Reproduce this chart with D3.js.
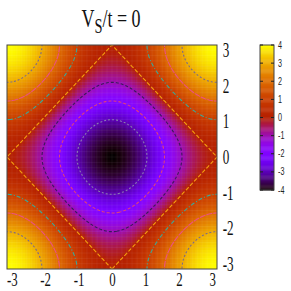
<!DOCTYPE html>
<html>
<head>
<meta charset="utf-8">
<script src="https://cdn.jsdelivr.net/npm/d3@7"></script>
<style>
  body { margin: 0; background: #fff; }
  svg { display: block; }
</style>
</head>
<body>
<svg width="291" height="291"></svg>
<script>
// parametros do modelo (titulo: V_S/t = 0)
var hopT = 1
var vS = 0
var tituloTexto = ["V", "S", "/t = 0"]

// niveis de contorno e ticks
var niveis = [-3, -2, -1, 0, 1, 2, 3]
var coresNiveis = ["#8a78b0", "#e0407a", "#3a1a5a", "#f5a010", "#3aa898", "#ec5080", "#7a6a8a"]
var tracosNiveis = ["2,2", "3,2", "3,2", "4,2", "4,2,1,2", "6,1", "2,2"]
var ticksEixo = [-3, -2, -1, 0, 1, 2, 3]
var ticksBarra = [-4, -3, -2, -1, 0, 1, 2, 3, 4]
var faixaCor = [-4, 4]

// energia da banda (tight binding)
function energia(kx, ky) {
    return -2 * hopT * (Math.cos(kx) + Math.cos(ky)) + vS
}

// paleta rgbformulae 7,5,15 do gnuplot
function paleta(t) {
    t = Math.max(0, Math.min(1, t))
    var r = Math.sqrt(t)
    var g = t * t * t
    var b = Math.max(0, Math.sin(2 * Math.PI * t))
    return d3.rgb(r * 255, g * 255, b * 255).toString()
}

var svg = d3.select("svg")
var PI = Math.PI

var x = d3.scaleLinear().domain([-PI, PI]).range([7, 217])
var y = d3.scaleLinear().domain([-PI, PI]).range([269, 45])
var cor = d3.scaleSequential(paleta).domain(faixaCor)

svg.append("defs").append("clipPath").attr("id", "clipArea")
    .append("rect")
    .attr("x", x(-PI)).attr("y", y(PI))
    .attr("width", x(PI) - x(-PI)).attr("height", y(-PI) - y(PI))

// mapa de cor
var M = 84
var passo = 2 * PI / M
var celulas = []
for (var j = 0; j < M; j++) {
    for (var i = 0; i < M; i++) {
        var kx0 = -PI + i * passo
        var ky0 = PI - j * passo
        celulas.push({kx: kx0, ky: ky0, v: energia(kx0 + passo / 2, ky0 - passo / 2)})
    }
}
var mapa = svg.append("g").attr("clip-path", "url(#clipArea)")
mapa.selectAll("rect")
    .data(celulas)
    .join("rect")
    .attr("x", d => x(d.kx))
    .attr("y", d => y(d.ky))
    .attr("width", x(passo) - x(0) + 0.3)
    .attr("height", y(0) - y(passo) + 0.3)
    .style("fill", d => cor(d.v))
    .attr("shape-rendering", "crispEdges")

// linhas claras da grade do pm3d
var linhasGrade = d3.range(0, M + 1, 2).map(i => -PI + i * passo)
mapa.append("g").selectAll("line.v")
    .data(linhasGrade)
    .join("line")
    .attr("x1", d => x(d)).attr("x2", d => x(d))
    .attr("y1", y(PI)).attr("y2", y(-PI))
    .attr("stroke", "#fff").attr("stroke-opacity", 0.1).attr("stroke-width", 0.6)
mapa.append("g").selectAll("line.h")
    .data(linhasGrade)
    .join("line")
    .attr("y1", d => y(d)).attr("y2", d => y(d))
    .attr("x1", x(-PI)).attr("x2", x(PI))
    .attr("stroke", "#fff").attr("stroke-opacity", 0.1).attr("stroke-width", 0.6)

// contornos
var N = 160
var margem = 0.15
var passoC = (2 * PI + 2 * margem) / N
var valores = new Array(N * N)
for (var jj = 0; jj < N; jj++) {
    for (var ii = 0; ii < N; ii++) {
        var kx = -PI - margem + (ii + 0.5) * passoC
        var ky = PI + margem - (jj + 0.5) * passoC
        valores[jj * N + ii] = energia(kx, ky)
    }
}
var contornos = d3.contours().size([N, N]).thresholds(niveis)(valores)
var proj = d3.geoTransform({
    point: function(px, py) {
        this.stream.point(x(-PI - margem + px * passoC), y(PI + margem - py * passoC))
    }
})
var caminho = d3.geoPath(proj)
svg.append("g").attr("clip-path", "url(#clipArea)")
    .selectAll("path")
    .data(contornos)
    .join("path")
    .attr("d", caminho)
    .attr("fill", "none")
    .attr("stroke", d => coresNiveis[niveis.indexOf(d.value)])
    .attr("stroke-width", 1.1)
    .attr("stroke-dasharray", d => tracosNiveis[niveis.indexOf(d.value)])

// moldura
svg.append("rect")
    .attr("x", x(-PI)).attr("y", y(PI))
    .attr("width", x(PI) - x(-PI)).attr("height", y(-PI) - y(PI))
    .attr("fill", "none").attr("stroke", "#444").attr("stroke-width", 1)

// eixos (hifen comum no lugar do sinal de menos)
var eixoX = svg.append("g")
    .attr("transform", "translate(0," + y(-PI) + ")")
    .call(d3.axisBottom(x).tickValues(ticksEixo).tickSize(0).tickPadding(3.5).tickFormat(d => String(d)))
eixoX.select(".domain").remove()
eixoX.selectAll("text")
    .style("font-family", "'Liberation Serif', serif")
    .style("font-size", "19.5px")
    .style("fill", "#111")
    .attr("transform", "scale(0.66,1)")

var eixoY = svg.append("g")
    .attr("transform", "translate(" + x(PI) + ",0)")
    .call(d3.axisRight(y).tickValues(ticksEixo).tickSize(0).tickPadding(9).tickFormat(d => String(d)))
eixoY.select(".domain").remove()
eixoY.selectAll("text")
    .style("font-family", "'Liberation Serif', serif")
    .style("font-size", "20.5px")
    .style("fill", "#111")
    .attr("transform", "scale(0.64,1)")

// titulo
var titulo = svg.append("text")
    .attr("transform", "translate(111,27) scale(0.72,1)")
    .attr("text-anchor", "middle")
    .style("font-family", "'Liberation Serif', serif")
    .style("font-size", "25px")
    .style("fill", "#111")
titulo.append("tspan").text(tituloTexto[0])
titulo.append("tspan").attr("dy", 6).style("font-size", "20px").text(tituloTexto[1])
titulo.append("tspan").attr("dy", -6).text(tituloTexto[2])

// barra de cores
var cy = d3.scaleLinear().domain(faixaCor).range([190, 45])
var barraX = 260, barraL = 14
var degraus = d3.range(faixaCor[0], faixaCor[1], 0.05)
svg.append("g").selectAll("rect")
    .data(degraus)
    .join("rect")
    .attr("x", barraX)
    .attr("y", d => cy(d + 0.05))
    .attr("width", barraL)
    .attr("height", d => cy(d) - cy(d + 0.05) + 0.4)
    .style("fill", d => cor(d + 0.025))
svg.append("rect")
    .attr("x", barraX).attr("y", cy(faixaCor[1]))
    .attr("width", barraL).attr("height", cy(faixaCor[0]) - cy(faixaCor[1]))
    .attr("fill", "none").attr("stroke", "#444").attr("stroke-width", 1)
svg.append("g").selectAll("line.t1")
    .data(ticksBarra)
    .join("line")
    .attr("x1", barraX).attr("x2", barraX + 3)
    .attr("y1", d => cy(d)).attr("y2", d => cy(d))
    .attr("stroke", "#222").attr("stroke-width", 1)
svg.append("g").selectAll("line.t2")
    .data(ticksBarra)
    .join("line")
    .attr("x1", barraX + barraL - 3).attr("x2", barraX + barraL)
    .attr("y1", d => cy(d)).attr("y2", d => cy(d))
    .attr("stroke", "#222").attr("stroke-width", 1)
svg.append("g").selectAll("text")
    .data(ticksBarra)
    .join("text")
    .attr("transform", d => "translate(" + (barraX + barraL + 4) + "," + (cy(d) + 3.5) + ") scale(0.72,1)")
    .style("font-family", "'Liberation Sans', sans-serif")
    .style("font-size", "10px")
    .style("fill", "#222")
    .text(d => d)
</script>
</body>
</html>
